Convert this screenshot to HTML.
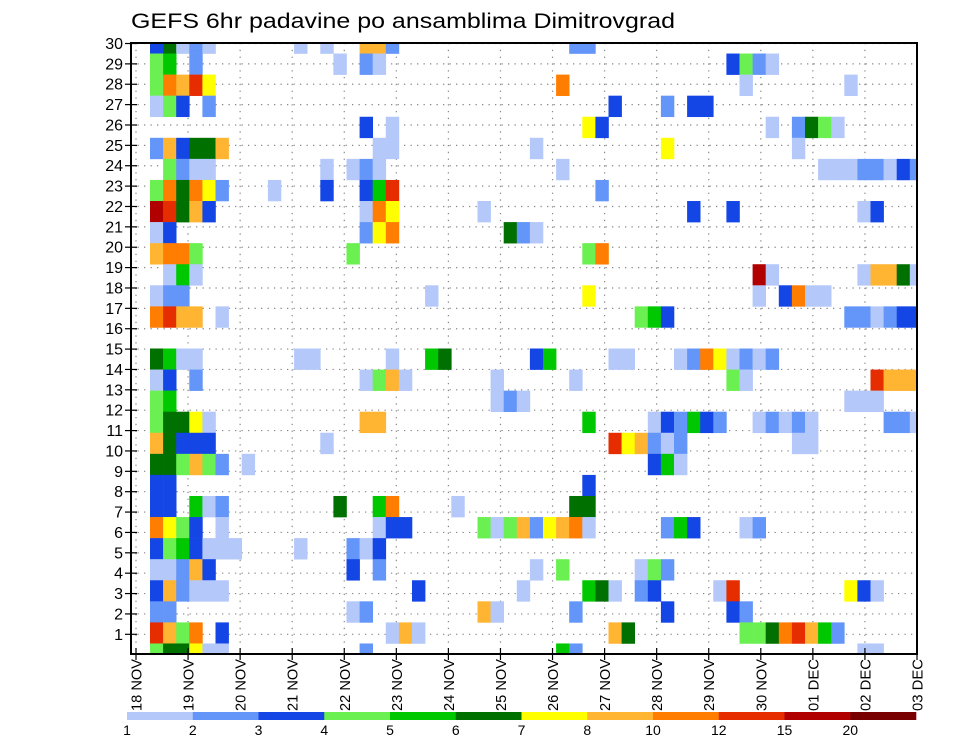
<!DOCTYPE html>
<html><head><meta charset="utf-8"><style>
body{margin:0;background:#fff;}
svg{display:block;font-family:"Liberation Sans",sans-serif;}
</style></head><body>
<svg id="chart" width="960" height="742" viewBox="0 0 960 742" xmlns="http://www.w3.org/2000/svg">
<defs><clipPath id="plotclip"><rect x="131" y="43" width="786" height="611"/></clipPath></defs>
<rect x="0" y="0" width="960" height="742" fill="#fff"/>
<text x="131" y="28" font-size="21" textLength="544" lengthAdjust="spacingAndGlyphs" fill="#000">GEFS 6hr padavine po ansamblima Dimitrovgrad</text>
<g id="grid"></g>
<g id="cells" clip-path="url(#plotclip)"></g>
<rect x="131" y="43" width="786" height="611" fill="none" stroke="#000" stroke-width="2"/>
<g id="yaxis"></g>
<g id="xaxis"></g>
<g id="legend"></g>
</svg>
<script>
// ---- data ----
const dayLabels = ["18 NOV","19 NOV","20 NOV","21 NOV","22 NOV","23 NOV","24 NOV","25 NOV","26 NOV","27 NOV","28 NOV","29 NOV","30 NOV","01 DEC","02 DEC","03 DEC"];
const memberLabels = [30,29,28,27,26,25,24,23,22,21,20,19,18,17,16,15,14,13,12,11,10,9,8,7,6,5,4,3,2,1];
const legendLabels = ["1","2","3","4","5","6","7","8","10","12","15","20"];
const levelColors = ["#b4c8fa","#6496fa","#1446e6","#6af050","#00c800","#007000","#ffff00","#ffb432","#ff7d00","#e62d00","#b00000","#780000"];
// each row (top to bottom): "column:level" pairs, level 1..12 (1 = 1-2 mm ... 12 = >20 mm)
const memberRows = [
"1:3 2:6 3:1 4:2 5:1 12:1 14:1 17:8 18:8 19:2 33:2 34:2",
"1:4 2:5 4:2 15:1 17:2 18:1 45:3 46:4 47:2 48:1",
"1:4 2:9 3:8 4:10 5:7 32:9 46:1 54:1",
"1:1 2:4 3:3 5:2 36:3 40:2 42:3 43:3",
"17:3 19:1 34:7 35:3 48:1 50:2 51:6 52:4 53:1",
"1:2 2:8 3:3 4:6 5:6 6:8 18:1 19:1 30:1 40:7 50:1",
"2:4 3:2 4:1 5:1 14:1 16:1 17:2 18:1 32:1 52:1 53:1 54:1 55:2 56:2 57:1 58:3 59:2",
"1:4 2:9 3:6 4:9 5:7 6:2 10:1 14:3 17:3 18:5 19:10 35:2",
"1:11 2:10 3:6 4:8 5:3 17:1 18:9 19:7 26:1 42:3 45:3 55:1 56:3",
"1:1 2:3 17:2 18:7 19:9 28:6 29:2 30:1",
"1:8 2:9 3:9 4:4 16:4 34:4 35:9",
"2:1 3:5 4:1 47:11 48:1 55:1 56:8 57:8 58:6 59:1",
"1:1 2:2 3:2 22:1 34:7 47:1 49:3 50:9 51:1 52:1",
"1:9 2:10 3:8 4:8 6:1 38:4 39:5 40:3 54:2 55:2 56:1 57:2 58:3 59:3",
"",
"1:6 2:5 3:1 4:1 12:1 13:1 19:1 22:5 23:6 30:3 31:5 36:1 37:1 41:1 42:2 43:9 44:7 45:1 46:2 47:1 48:2",
"1:1 2:3 4:2 17:1 18:4 19:8 20:1 27:1 33:1 45:4 46:1 56:10 57:8 58:8 59:8",
"1:4 2:5 27:1 28:2 29:1 54:1 55:1 56:1",
"1:4 2:6 3:6 4:7 5:1 17:8 18:8 34:5 39:1 40:3 41:2 42:5 43:3 44:2 47:1 48:2 49:1 50:2 51:1 57:2 58:2 59:1",
"1:8 2:6 3:3 4:3 5:3 14:1 36:10 37:7 38:8 39:2 40:1 41:2 50:1 51:1",
"1:6 2:6 3:4 4:8 5:4 6:2 8:1 39:3 40:5 41:1",
"1:3 2:3 34:3",
"1:3 2:3 4:5 5:1 6:2 15:6 18:5 19:9 24:1 33:6 34:6",
"1:9 2:7 3:4 4:3 6:1 18:1 19:3 20:3 26:4 27:1 28:4 29:8 30:2 31:7 32:8 33:9 34:1 40:2 41:5 42:3 46:1 47:2",
"1:3 2:4 3:5 4:3 5:1 6:1 7:1 12:1 16:2 17:1 18:3",
"1:1 2:1 3:2 4:8 5:3 16:3 18:2 30:1 32:4 38:1 39:4 40:2",
"1:3 2:8 3:2 4:1 5:1 6:1 21:3 29:1 34:5 35:6 36:1 38:2 39:3 44:1 45:10 54:7 55:3 56:1",
"1:2 2:2 16:1 17:2 26:8 27:1 33:2 40:3 45:3 46:2",
"1:10 2:8 3:4 4:9 6:3 19:1 20:8 21:1 36:8 37:6 46:4 47:4 48:6 49:9 50:10 51:8 52:5 53:2",
"1:4 2:6 3:6 4:7 5:1 6:1 17:2 32:5 33:2 55:1 56:1"
];

// ---- scales ----
const NS="http://www.w3.org/2000/svg";
const plotL=131, plotR=917, plotT=43, plotB=654;
const cellW=13.1, cellX0=136.9;
const rowH=(plotB-plotT)/(memberRows.length-1);
function xCell(c){return cellX0+cellW*c;}
function yRow(k){return plotT+rowH*(k-0.5);}
function xDay(d){return 136+d*((plotR-136)/(dayLabels.length-1));}
function yLabel(i){return 43.5+i*((634.3-43.5)/(memberLabels.length-1));}
function mk(tag,attrs,parent){const e=document.createElementNS(NS,tag);for(const k in attrs)e.setAttribute(k,attrs[k]);parent.appendChild(e);return e;}

// grid
const grid=document.getElementById('grid');
memberLabels.forEach((m,i)=>{
  const l=mk('line',{x1:plotL,x2:plotR,y1:yLabel(i),y2:yLabel(i),stroke:'#888','stroke-width':1.2,'stroke-dasharray':'1.3,5.2'},grid);
  
  
});
dayLabels.forEach((d,i)=>{
  const l=mk('line',{x1:xDay(i),x2:xDay(i),y1:plotT,y2:plotB,stroke:'#888','stroke-width':1.2,'stroke-dasharray':'1.3,5.5'},grid);
  
  
});

// cells
const cells=document.getElementById('cells');
memberRows.forEach((row,k)=>{
  if(!row) return;
  row.split(' ').forEach(p=>{
    const [c,lv]=p.split(':').map(Number);
    const r=mk('rect',{x:xCell(c),y:yRow(k),width:cellW+0.3,height:rowH+0.3,fill:levelColors[lv-1]},cells);
    
    
  });
});

// y axis
const ya=document.getElementById('yaxis');
memberLabels.forEach((m,i)=>{
  const y=yLabel(i);
  const t=mk('line',{x1:125,x2:137,y1:y,y2:y,stroke:'#000','stroke-width':1.2},ya);
  
  
  const tx=mk('text',{x:123,y:y+5.5,'font-size':16,'text-anchor':'end',fill:'#000'},ya);
  tx.textContent=m;
  
  
});

// x axis
const xa=document.getElementById('xaxis');
dayLabels.forEach((d,i)=>{
  const x=xDay(i);
  const t=mk('line',{x1:x,x2:x,y1:plotB-6,y2:plotB+6,stroke:'#000','stroke-width':1.2},xa);
  
  
  const tx=mk('text',{x:0,y:0,'font-size':15,'text-anchor':'end',textLength:52,lengthAdjust:'spacingAndGlyphs',fill:'#000',transform:`translate(${x+5.5},659) rotate(-90)`},xa);
  tx.textContent=d;
  
  
});

// legend
const lg=document.getElementById('legend');
const lgL=127, lgR=916, segW=(lgR-lgL)/levelColors.length;
levelColors.forEach((col,i)=>{
  const r=mk('rect',{x:lgL+i*segW,y:712,width:segW+0.3,height:8,fill:col},lg);
  
  
});
legendLabels.forEach((s,i)=>{
  const t=mk('text',{x:lgL+i*segW,y:735,'font-size':14,'text-anchor':'middle',fill:'#000'},lg);
  t.textContent=s;
  
  
});
</script>
</body></html>
